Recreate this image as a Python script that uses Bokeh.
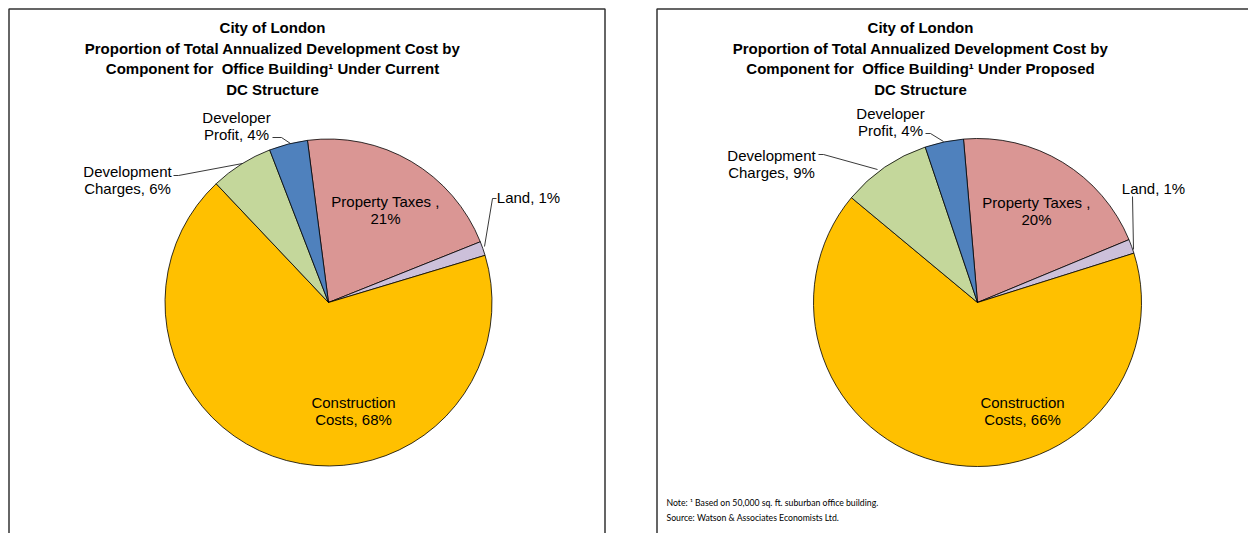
import numpy as np
from bokeh.plotting import figure
from bokeh.models import Range1d, ColumnDataSource
from bokeh.core.properties import value
from bokeh.embed import file_html
from bokeh.resources import INLINE

# ---------------- data ----------------
categories = ["Property Taxes", "Land", "Construction Costs",
              "Development Charges", "Developer Profit"]
current_pct = [21.0, 1.4, 67.6, 6.2, 3.8]
proposed_pct = [20.1, 1.4, 65.9, 8.8, 3.8]
colors = ["#DA9694", "#CCC0DA", "#FFC000", "#C4D79B", "#4F81BD"]

title_current = ["City of London",
                 "Proportion of Total Annualized Development Cost by",
                 "Component for\u00a0 Office Building\u00b9 Under Current",
                 "DC Structure"]
title_proposed = ["City of London",
                  "Proportion of Total Annualized Development Cost by",
                  "Component for\u00a0 Office Building\u00b9 Under Proposed",
                  "DC Structure"]
note_lines = ["Note: \u00b9 Based on 50,000 sq. ft. suburban office building.",
              "Source: Watson & Associates Economists Ltd."]

# ---------------- layout ----------------
W, H = 1248, 533


def Y(sy):
    return H - sy


p = figure(width=W, height=H, x_range=Range1d(0, W), y_range=Range1d(0, H),
           output_backend="svg", toolbar_location=None, min_border=0,
           x_axis_type=None, y_axis_type=None)
p.grid.visible = False
p.outline_line_color = None
p.background_fill_color = "white"
p.border_fill_color = "white"

# panel borders
p.line([8.5, 8.5, 604.5, 604.5], [Y(560), Y(8.5), Y(8.5), Y(560)],
       line_color="#333333", line_width=1.5)
p.line([656.5, 656.5, 1270], [Y(560), Y(8.5), Y(8.5)],
       line_color="#333333", line_width=1.5)


def label_lines(name, pct):
    v = int(round(pct))
    if name == "Property Taxes":
        return ["Property Taxes ,", f"{v}%"]
    if name == "Land":
        return [f"Land, {v}%"]
    first, second = name.split(" ")
    return [first, f"{second}, {v}%"]


def draw_panel(vals, title, cx, cy, r, start_cw, title_x, label_pos, leaders):
    v = np.array(vals, float)
    frac = v / v.sum()
    cum = np.concatenate([[0.0], np.cumsum(frac)]) * 360.0 + start_cw
    src = ColumnDataSource(dict(start=np.radians(90 - cum[:-1]),
                                end=np.radians(90 - cum[1:]),
                                color=colors))
    p.wedge(x=cx, y=Y(cy), radius=r, start_angle="start", end_angle="end",
            direction="clock", fill_color="color", line_color="black",
            line_width=0.8, source=src)
    # title
    ty = [27, 47.5, 68, 88.5]
    p.text(x=[title_x] * 4, y=[Y(t) for t in ty], text=title,
           text_font=value("Liberation Sans"), text_font_style="bold",
           text_font_size="15px", text_align="center", text_baseline="middle",
           text_color="black")
    # leaders
    for pts in leaders:
        p.line([q[0] for q in pts], [Y(q[1]) for q in pts],
               line_color="#222222", line_width=0.9)
    # data labels
    xs, ys, ts = [], [], []
    for name, pct, (lx, ly) in zip(categories, vals, label_pos):
        for i, t in enumerate(label_lines(name, pct)):
            xs.append(lx)
            ys.append(Y(ly + i * 16.5))
            ts.append(t)
    p.text(x=xs, y=ys, text=ts, text_font=value("Liberation Sans"),
           text_font_size="15px", text_align="center", text_baseline="middle",
           text_color="black")


draw_panel(current_pct, title_current, 328, 302, 163.5, -7.4, 272,
           [(385, 201), (528, 197), (353, 402), (127, 171), (236, 117)],
           [[(272, 137), (281, 137), (290, 143)],
            [(173, 175), (178, 175), (242, 163)],
            [(496, 198), (492, 198), (484, 246)]])

draw_panel(proposed_pct, title_proposed, 977, 302, 164, -4.9, 920,
           [(1036, 202), (1153, 188), (1022, 402), (771, 155), (890, 113)],
           [[(925, 133), (930, 133), (943, 141)],
            [(818, 154), (823, 154), (877, 169)],
            [(1132, 196), (1133, 249)]])

p.text(x=[666, 666], y=[Y(502), Y(517)], text=note_lines,
       text_font=value("Lato"), text_font_size="8.7px", text_align="left",
       text_baseline="middle", text_color="black")

open("out.html", "w").write(file_html(p, INLINE))
